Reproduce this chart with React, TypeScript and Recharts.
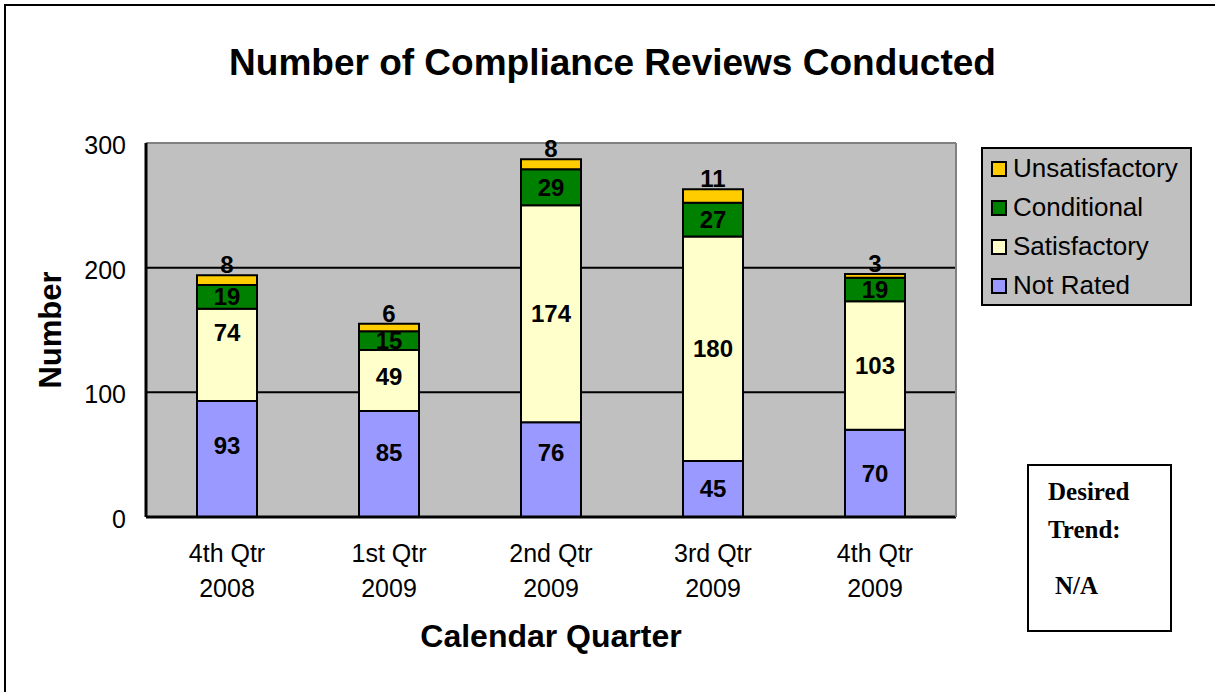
import { BarChart, Bar, XAxis, YAxis, CartesianGrid, Legend, LabelList, ReferenceLine } from 'recharts';

const quarters = ['4th Qtr 2008', '1st Qtr 2009', '2nd Qtr 2009', '3rd Qtr 2009', '4th Qtr 2009'];
const notRated = [93, 85, 76, 45, 70];
const satisfactory = [74, 49, 174, 180, 103];
const conditional = [19, 15, 29, 27, 19];
const unsatisfactory = [8, 6, 8, 11, 3];
const yTicks = [0, 100, 200, 300];
const legendOrder = ['Unsatisfactory', 'Conditional', 'Satisfactory', 'Not Rated'];

const data = quarters.map((q, i) => ({
  name: q,
  notRated: notRated[i],
  satisfactory: satisfactory[i],
  conditional: conditional[i],
  unsatisfactory: unsatisfactory[i],
}));

// a few data labels sit higher than the segment centre in the original
const labelNudge: Record<string, number[]> = {
  notRated: [-14, -12, -17, 0, 0],
  satisfactory: [-22, -4, 0, 0, 0],
};

const FONT = '"Liberation Sans", Arial, sans-serif';
const SERIF = '"Liberation Serif", "Times New Roman", serif';

function QuarterTick({ x, y, payload }: any) {
  const label: string = payload.value;
  const cut = label.lastIndexOf(' ');
  return (
    <g>
      <text x={x} y={y + 43} textAnchor="middle" fontFamily={FONT} fontSize={25} fill="#000">
        {label.slice(0, cut)}
      </text>
      <text x={x} y={y + 78} textAnchor="middle" fontFamily={FONT} fontSize={25} fill="#000">
        {label.slice(cut + 1)}
      </text>
    </g>
  );
}

function centerLabel(key: string) {
  return (props: any) => {
    const { x, y, width, height, value, index } = props;
    const shift = labelNudge[key] ? labelNudge[key][index] : 0;
    return (
      <text
        x={x + width / 2}
        y={y + height / 2 + shift}
        textAnchor="middle"
        dominantBaseline="central"
        fontFamily={FONT}
        fontWeight="bold"
        fontSize={24}
        fill="#000"
      >
        {value}
      </text>
    );
  };
}

function LegendBox({ payload }: any) {
  const items = [...(payload || [])].sort(
    (a: any, b: any) => legendOrder.indexOf(a.value) - legendOrder.indexOf(b.value)
  );
  return (
    <div
      style={{
        width: 211,
        height: 159,
        background: '#C0C0C0',
        border: '2px solid #000',
        boxSizing: 'border-box',
        paddingTop: 0,
        paddingLeft: 8,
      }}
    >
      {items.map((item: any) => (
        <div key={item.value} style={{ display: 'flex', alignItems: 'center', height: 39 }}>
          <span
            style={{
              width: 16,
              height: 16,
              background: item.color,
              border: '2px solid #000',
              boxSizing: 'border-box',
              marginRight: 6,
            }}
          />
          <span style={{ fontFamily: FONT, fontSize: 26, color: '#000' }}>{item.value}</span>
        </div>
      ))}
    </div>
  );
}

export default function App() {
  return (
    <div style={{ position: 'absolute', left: 0, top: 0, width: 1215, height: 692, background: '#fff', overflow: 'hidden' }}>
      <div
        style={{
          position: 'absolute',
          left: 4,
          top: 4,
          width: 1220,
          height: 700,
          borderLeft: '2px solid #000',
          borderTop: '2px solid #000',
        }}
      />
      <div
        style={{
          position: 'absolute',
          left: 0,
          width: 1225,
          top: 41,
          textAlign: 'center',
          fontFamily: FONT,
          fontWeight: 'bold',
          fontSize: 37,
          lineHeight: '44px',
        }}
      >
        Number of Compliance Reviews Conducted
      </div>
      <div style={{ position: 'absolute', left: 0, top: 0 }}>
        <BarChart
          width={1215}
          height={692}
          data={data}
          margin={{ top: 143, right: 257, bottom: 75, left: 86 }}
          barSize={60}
        >
          <CartesianGrid vertical={false} fill="#C0C0C0" stroke="#000" strokeWidth={2} />
          <ReferenceLine y={300} stroke="#808080" strokeWidth={2} />
          <XAxis
            dataKey="name"
            tick={<QuarterTick />}
            tickLine={false}
            tickSize={0}
            height={100}
            axisLine={{ stroke: '#000', strokeWidth: 3 }}
            label={{
              value: 'Calendar Quarter',
              position: 'insideBottom',
              offset: -30,
              fontFamily: FONT,
              fontWeight: 'bold',
              fontSize: 32,
              fill: '#000',
            }}
          />
          <YAxis
            domain={[0, 300]}
            ticks={yTicks}
            width={60}
            tickLine={false}
            tickSize={0}
            tickMargin={20}
            axisLine={{ stroke: '#000', strokeWidth: 3 }}
            tick={{ fontFamily: FONT, fontSize: 25, fill: '#000', dy: 2 }}
            label={{
              value: 'Number',
              angle: -90,
              position: 'insideLeft',
              offset: -36,
              fontFamily: FONT,
              fontWeight: 'bold',
              fontSize: 31,
              fill: '#000',
              style: { textAnchor: 'middle' },
            }}
          />
          <YAxis
            yAxisId="frame"
            orientation="right"
            domain={[0, 300]}
            width={2}
            tick={false}
            tickLine={false}
            axisLine={{ stroke: '#808080', strokeWidth: 2 }}
          />
          <Legend
            layout="vertical"
            align="center"
            verticalAlign="middle"
            content={<LegendBox />}
            wrapperStyle={{ left: 981, top: 147, width: 211, height: 159 }}
          />
          <Bar dataKey="notRated" name="Not Rated" stackId="a" fill="#9999FF" stroke="#000" strokeWidth={2} isAnimationActive={false}>
            <LabelList dataKey="notRated" content={centerLabel('notRated')} />
          </Bar>
          <Bar dataKey="satisfactory" name="Satisfactory" stackId="a" fill="#FFFFCC" stroke="#000" strokeWidth={2} isAnimationActive={false}>
            <LabelList dataKey="satisfactory" content={centerLabel('satisfactory')} />
          </Bar>
          <Bar dataKey="conditional" name="Conditional" stackId="a" fill="#008000" stroke="#000" strokeWidth={2} isAnimationActive={false}>
            <LabelList dataKey="conditional" content={centerLabel('conditional')} />
          </Bar>
          <Bar dataKey="unsatisfactory" name="Unsatisfactory" stackId="a" fill="#FFCC00" stroke="#000" strokeWidth={2} isAnimationActive={false}>
            <LabelList dataKey="unsatisfactory" position="top" offset={2} fontFamily={FONT} fontWeight="bold" fontSize={24} fill="#000" />
          </Bar>
        </BarChart>
      </div>
      <div
        style={{
          position: 'absolute',
          left: 1027,
          top: 464,
          width: 145,
          height: 168,
          border: '2px solid #000',
          boxSizing: 'border-box',
          background: '#fff',
          fontFamily: SERIF,
          fontWeight: 'bold',
          fontSize: 25,
          lineHeight: '38px',
          color: '#000',
        }}
      >
        <div style={{ position: 'absolute', left: 19, top: 7 }}>Desired</div>
        <div style={{ position: 'absolute', left: 19, top: 45 }}>Trend:</div>
        <div style={{ position: 'absolute', left: 26, top: 101 }}>N/A</div>
      </div>
    </div>
  );
}
